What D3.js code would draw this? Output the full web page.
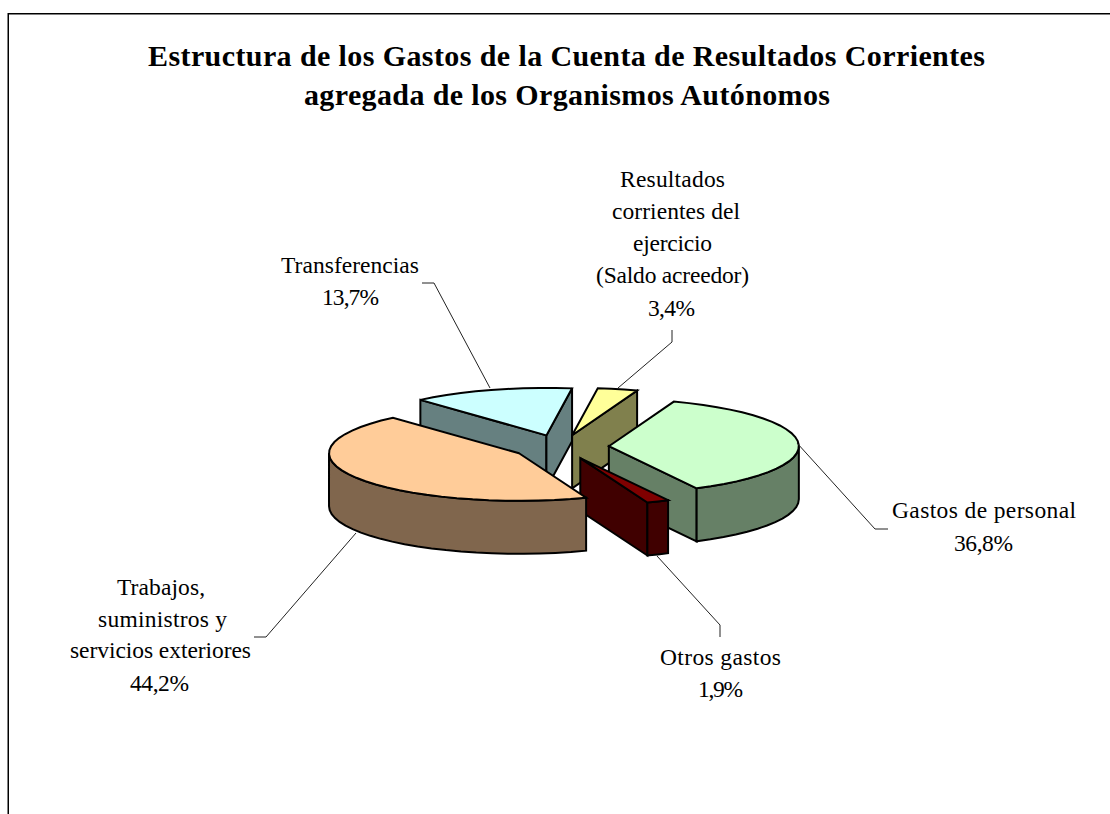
<!DOCTYPE html>
<html><head><meta charset="utf-8">
<script src="https://cdn.jsdelivr.net/npm/d3@7/dist/d3.min.js"></script>
<style>html,body{margin:0;padding:0;background:#fff;overflow:hidden}svg{display:block}text{font-family:"Liberation Serif",serif;fill:#000}</style>
</head><body>
<svg id="c" width="1110" height="814"></svg>
<script>
// Data
const categories = ["Gastos de personal","Otros gastos","Trabajos, suministros y servicios exteriores","Transferencias","Resultados corrientes del ejercicio (Saldo acreedor)"];
const values = [36.8,1.9,44.2,13.7,3.4];
const percentLabels = ["36,8%","1,9%","44,2%","13,7%","3,4%"];
const titleLines = ["Estructura de los Gastos de la Cuenta de Resultados Corrientes","agregada de los Organismos Autónomos"];

// Styles
const topColors  = ["#CCFFCC","#800000","#FFCC99","#CCFFFF","#FFFF99"];
const wallColors = ["#668066","#400000","#80664D","#668080","#80804D"];

// Layout
const W=1110,H=814;
const cx=560.5, cy=447, rx=190, ry=47.5, depth=53, explode=0.255;
const drawOrder=[3,4,0,1,2];
const titleLayout=[{x1:148,x2:985,y:66},{x1:304,x2:830,y:105}];
const labelLayout=[
 [{t:"Gastos de personal",x1:892,x2:1076,y:518},{t:percentLabels[0],x1:954,x2:1013,y:551}],
 [{t:"Otros gastos",x1:660,x2:781,y:665},{t:percentLabels[1],x1:698,x2:743,y:697}],
 [{t:"Trabajos,",x1:117,x2:205,y:595},{t:"suministros y",x1:98,x2:227,y:627},{t:"servicios exteriores",x1:70,x2:251,y:658},{t:percentLabels[2],x1:130,x2:189,y:691}],
 [{t:"Transferencias",x1:281,x2:419,y:273},{t:percentLabels[3],x1:322,x2:379,y:305}],
 [{t:"Resultados",x1:620,x2:725,y:187},{t:"corrientes del",x1:612,x2:740,y:219},{t:"ejercicio",x1:633,x2:712,y:251},{t:"(Saldo acreedor)",x1:596,x2:749,y:283},{t:percentLabels[4],x1:648,x2:695,y:316}]
];
const leaders=[
 [[888,529],[875,529],[797,443]],
 [[720,637],[720,625],[657,556]],
 [[254,637],[266,637],[356,533]],
 [[422,283],[434,283],[490,388]],
 [[672,330],[672,342],[618,388]]
];

const svg=d3.select("#c");
const rad=d=>d*Math.PI/180;
const sx=d3.scaleLinear().domain([-1,1]).range([-rx,rx]);
const sy=d3.scaleLinear().domain([-1,1]).range([-ry,ry]);
const line=d3.line();
const arcs=d3.pie().sort(null).startAngle(rad(20)).endAngle(rad(380))(values);

// Frame
svg.append("path").attr("d",line([[8.25,H],[8.25,13.75],[W,13.75]]))
   .attr("fill","none").attr("stroke","#000").attr("stroke-width",1.5);

// Title
titleLines.forEach((t,i)=>{const l=titleLayout[i];
 svg.append("text").attr("x",l.x1).attr("y",l.y).attr("font-size",30).attr("font-weight","bold")
  .attr("textLength",l.x2-l.x1).attr("lengthAdjust","spacing").text(t);});

function sampleAngles(a0,a1){const n=Math.max(2,Math.ceil((a1-a0)/rad(5)));return d3.range(n+1).map(i=>a0+(a1-a0)*i/n);}

drawOrder.forEach(i=>{
 const a=arcs[i], mid=(a.startAngle+a.endAngle)/2;
 const ox=cx+sx(explode*Math.sin(mid)), oy=cy+sy(-explode*Math.cos(mid));
 const P=(th,dz=0)=>[ox+sx(Math.sin(th)),oy+sy(-Math.cos(th))+dz];
 const C=(dz=0)=>[ox,oy+dz];
 const g=svg.append("g");
 const poly=(pts,fill)=>g.append("path").attr("d",line(pts)+"Z").attr("fill",fill)
   .attr("stroke","#000").attr("stroke-width",2).attr("stroke-linejoin","miter");
 // cut faces
 if(Math.sin(a.startAngle)<0) poly([C(),P(a.startAngle),P(a.startAngle,depth),C(depth)],wallColors[i]);
 if(Math.sin(a.endAngle)>0)   poly([C(),P(a.endAngle),P(a.endAngle,depth),C(depth)],wallColors[i]);
 // outer wall, front half only
 const f0=Math.max(a.startAngle,rad(90)), f1=Math.min(a.endAngle,rad(270));
 if(f1>f0){const s=sampleAngles(f0,f1);
   poly(s.map(t=>P(t)).concat(s.slice().reverse().map(t=>P(t,depth))),wallColors[i]);}
 // top
 poly([C()].concat(sampleAngles(a.startAngle,a.endAngle).map(t=>P(t))),topColors[i]);
});

// Leaders
leaders.forEach(l=>svg.append("path").attr("d",line(l)).attr("fill","none").attr("stroke","#222").attr("stroke-width",1));

// Labels
labelLayout.forEach(ls=>ls.forEach(l=>{
 svg.append("text").attr("x",l.x1).attr("y",l.y).attr("font-size",23.5)
  .attr("textLength",l.x2-l.x1).attr("lengthAdjust","spacing").text(l.t);
}));
</script>
</body></html>
